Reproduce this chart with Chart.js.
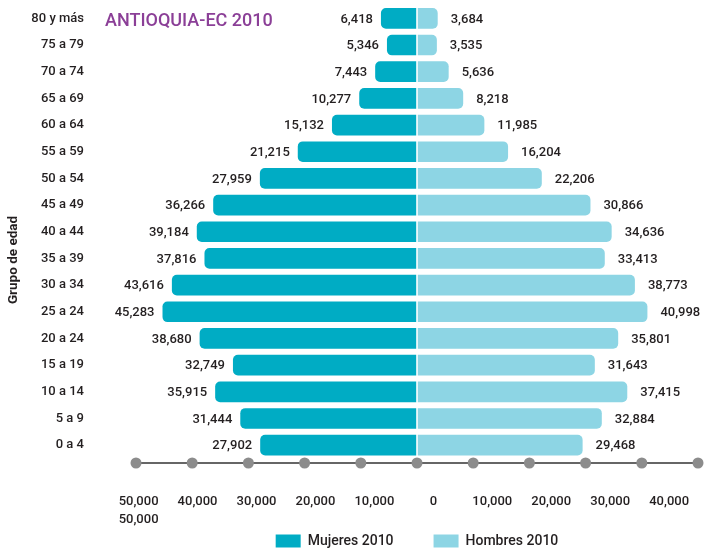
<!DOCTYPE html>
<html><head><meta charset="utf-8">
<script src="https://cdn.jsdelivr.net/npm/chart.js@4"></script>
<style>html,body{margin:0;padding:0;background:#fff}#wrap{width:705px;height:549px;position:relative}</style>
</head><body><div id="wrap"><canvas id="c"></canvas></div>
<script>
const ageGroups = ["80 y más","75 a 79","70 a 74","65 a 69","60 a 64","55 a 59","50 a 54","45 a 49","40 a 44","35 a 39","30 a 34","25 a 24","20 a 24","15 a 19","10 a 14","5 a 9","0 a 4"];
const mujeres2010 = [6418,5346,7443,10277,15132,21215,27959,36266,39184,37816,43616,45283,38680,32749,35915,31444,27902];
const hombres2010 = [3684,3535,5636,8218,11985,16204,22206,30866,34636,33413,38773,40998,35801,31643,37415,32884,29468];
const axisTickLabels = [["50,000","50,000"],"40,000","30,000","20,000","10,000","0","10,000","20,000","30,000","40,000"];
const chartTitle = "ANTIOQUIA-EC 2010";
const seriesNames = ["Mujeres 2010","Hombres 2010"];
const axisTitle = "Grupo de edad";

const FONT = {family:'Roboto', size:13, weight:'500'};
const TXT = '#231f20';

const pyramidDecor = {
  id:'pyramidDecor',
  afterDatasetsDraw(chart){
    const {ctx, chartArea:a, scales:{x}} = chart;
    ctx.save();
    const x0 = x.getPixelForValue(0);
    ctx.strokeStyle='#ffffff'; ctx.lineWidth=1.6;
    ctx.beginPath(); ctx.moveTo(x0, a.top); ctx.lineTo(x0, a.bottom); ctx.stroke();
    const yAx = a.bottom + 4.5;
    ctx.strokeStyle='#666666'; ctx.lineWidth=2;
    ctx.beginPath(); ctx.moveTo(x.getPixelForValue(x.min), yAx); ctx.lineTo(x.getPixelForValue(x.max), yAx); ctx.stroke();
    ctx.fillStyle='#8c8c8c';
    for (let v = x.min; v <= x.max; v += 10000){
      const px = x.getPixelForValue(v);
      ctx.beginPath(); ctx.arc(px, yAx, 5.5, 0, Math.PI*2); ctx.fill();
    }
    ctx.font='500 13px Roboto'; ctx.fillStyle=TXT; ctx.textBaseline='middle';
    chart.data.datasets.forEach((ds,di)=>{
      const meta = chart.getDatasetMeta(di);
      meta.data.forEach((bar,i)=>{
        const v = ds.data[i];
        const txt = Math.abs(v).toLocaleString('en-US');
        if (v < 0){ ctx.textAlign='right'; ctx.fillText(txt, bar.x-8, bar.y+1); }
        else { ctx.textAlign='left'; ctx.fillText(txt, bar.x+13, bar.y+1); }
      });
    });
    ctx.font='500 18px Roboto'; ctx.fillStyle='#8b3f97'; ctx.textAlign='left';
    ctx.fillText(chartTitle, 105, 21);
    ctx.save();
    ctx.translate(14, 260); ctx.rotate(-Math.PI/2);
    ctx.font='bold 13.5px Roboto'; ctx.fillStyle=TXT; ctx.textAlign='center'; ctx.textBaseline='middle';
    ctx.fillText(axisTitle, 0, 0);
    ctx.restore();
    ctx.restore();
  }
};

new Chart(document.getElementById('c'), {
  type:'bar',
  data:{
    labels: ageGroups,
    datasets:[
      {label:seriesNames[0], data: mujeres2010.map(v=>-v), backgroundColor:'#00acc4',
       borderRadius:{topLeft:5,bottomLeft:5,topRight:0,bottomRight:0}, borderSkipped:false,
       categoryPercentage:1, barPercentage:0.775},
      {label:seriesNames[1], data: hombres2010, backgroundColor:'#8dd5e4',
       borderRadius:{topLeft:0,bottomLeft:0,topRight:5,bottomRight:5}, borderSkipped:false,
       categoryPercentage:1, barPercentage:0.775}
    ]
  },
  options:{
    indexAxis:'y',
    responsive:true, maintainAspectRatio:false, animation:false,
    layout:{padding:{top:5,left:4,right:7,bottom:-9}},
    scales:{
      x:{ type:'linear', stacked:true, min:-50000, max:50000, display:false },
      xl:{ type:'linear', position:'bottom', min:-0.044, max:9.49,
        grid:{display:false, drawTicks:false}, border:{display:false},
        afterBuildTicks: s => { s.ticks = axisTickLabels.map((_, i)=>({value:i})); },
        ticks:{ autoSkip:false, maxRotation:0, minRotation:0, mirror:true, padding:-52,
          font:{family:'Roboto', size:13, weight:'500', lineHeight:1.38}, color:TXT,
          callback:(v,i)=>axisTickLabels[i] },
        afterFit: s => { s.height = 35.5; s.paddingLeft = 0; s.paddingRight = 0; }
      },
      y:{ stacked:true, grid:{display:false, drawTicks:false}, border:{display:false},
        ticks:{ padding:52, font:FONT, color:TXT, autoSkip:false },
        afterFit: s => { s.width = 132; s.paddingTop = 0; s.paddingBottom = 0; }
      }
    },
    plugins:{
      legend:{ position:'bottom', fullSize:false,
        labels:{ boxWidth:25, boxHeight:13, padding:40, font:{family:'Roboto', size:14, weight:'500'}, color:TXT } },
      tooltip:{enabled:false}
    }
  },
  plugins:[pyramidDecor]
});
</script></body></html>
